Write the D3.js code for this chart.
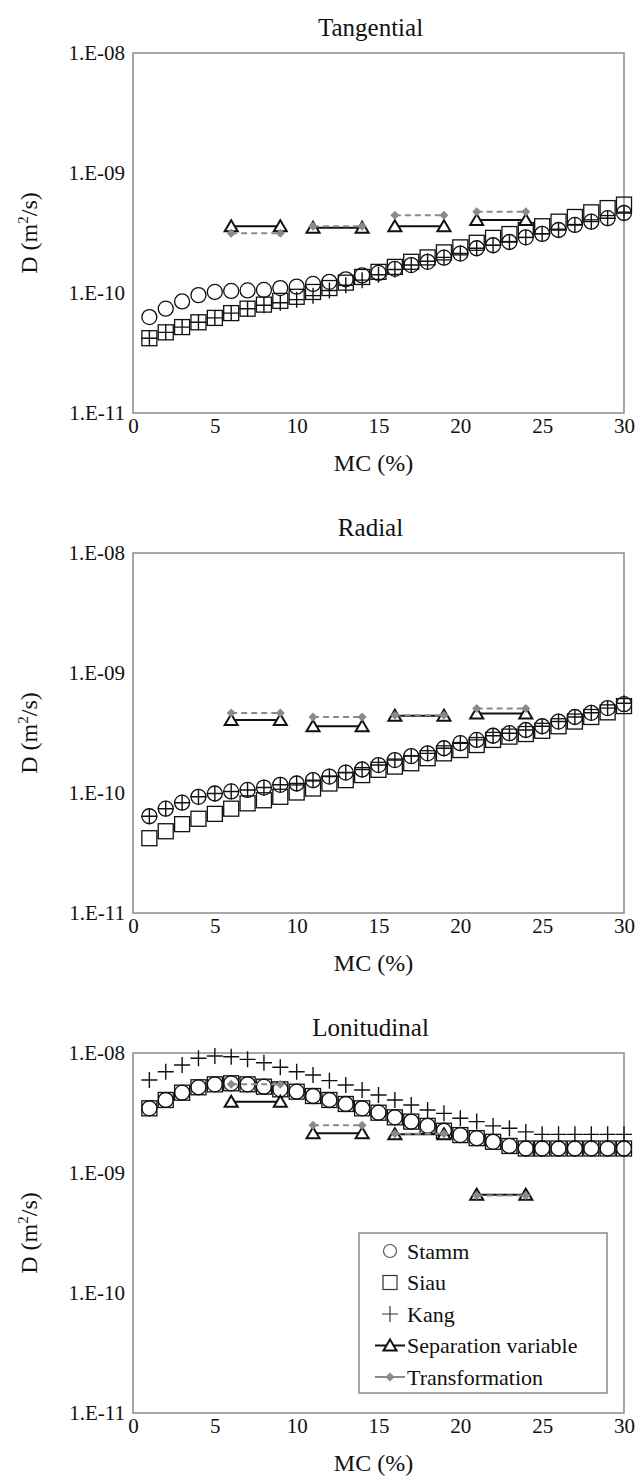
<!DOCTYPE html>
<html><head><meta charset="utf-8">
<script src="https://cdn.jsdelivr.net/npm/d3@7"></script>
<style>body{margin:0;background:#fff}svg{display:block}svg text,svg tspan{font-family:'Liberation Serif' !important}</style>
</head><body style="margin:0"><svg id="c" width="644" height="1484" font-family="Liberation Serif"></svg>
<script>
const mc = [1,2,3,4,5,6,7,8,9,10,11,12,13,14,15,16,17,18,19,20,21,22,23,24,25,26,27,28,29,30];
const xTicks = [0,5,10,15,20,25,30];
const yTicks = [1e-11,1e-10,1e-9,1e-8];
const yTickLabels = ["1.E-11","1.E-10","1.E-09","1.E-08"];
const panelTitles = ["Tangential","Radial","Lonitudinal"];
const segX = [6,9,11,14,16,19,21,24];

// Tangential
const tangStamm = [6.3e-11,7.4e-11,8.5e-11,9.6e-11,1.02e-10,1.04e-10,1.05e-10,1.06e-10,1.10e-10,1.13e-10,1.19e-10,1.24e-10,1.30e-10,1.40e-10,1.47e-10,1.59e-10,1.71e-10,1.82e-10,1.97e-10,2.13e-10,2.36e-10,2.50e-10,2.66e-10,2.91e-10,3.11e-10,3.35e-10,3.69e-10,3.93e-10,4.2e-10,4.64e-10];
const tangSiau = [4.2e-11,4.7e-11,5.2e-11,5.7e-11,6.2e-11,6.8e-11,7.4e-11,8.0e-11,8.6e-11,9.3e-11,1.02e-10,1.10e-10,1.22e-10,1.36e-10,1.50e-10,1.65e-10,1.82e-10,1.98e-10,2.18e-10,2.40e-10,2.62e-10,2.88e-10,3.1e-10,3.35e-10,3.6e-10,3.93e-10,4.3e-10,4.7e-10,5.1e-10,5.45e-10];
const tangKang = [4.2e-11,4.7e-11,5.2e-11,5.7e-11,6.2e-11,6.8e-11,7.4e-11,7.9e-11,8.3e-11,8.8e-11,9.5e-11,1.05e-10,1.16e-10,1.28e-10,1.42e-10,1.57e-10,1.71e-10,1.84e-10,1.98e-10,2.14e-10,2.36e-10,2.50e-10,2.66e-10,2.91e-10,3.11e-10,3.35e-10,3.69e-10,3.93e-10,4.2e-10,4.64e-10];
const tangSep = [3.6e-10,3.6e-10,3.5e-10,3.5e-10,3.6e-10,3.6e-10,4.05e-10,4.05e-10];
const tangTrans = [3.15e-10,3.15e-10,3.6e-10,3.6e-10,4.45e-10,4.45e-10,4.75e-10,4.75e-10];

// Radial
const radStamm = [6.4e-11,7.4e-11,8.3e-11,9.3e-11,9.9e-11,1.03e-10,1.06e-10,1.11e-10,1.17e-10,1.20e-10,1.28e-10,1.37e-10,1.48e-10,1.57e-10,1.71e-10,1.88e-10,2.03e-10,2.14e-10,2.36e-10,2.6e-10,2.77e-10,3.0e-10,3.15e-10,3.35e-10,3.6e-10,3.94e-10,4.3e-10,4.66e-10,5.1e-10,5.5e-10];
const radSiau = [4.2e-11,4.8e-11,5.5e-11,6.1e-11,6.7e-11,7.4e-11,8.2e-11,8.7e-11,9.3e-11,1.01e-10,1.09e-10,1.20e-10,1.28e-10,1.41e-10,1.56e-10,1.66e-10,1.77e-10,1.95e-10,2.14e-10,2.28e-10,2.51e-10,2.77e-10,2.95e-10,3.1e-10,3.3e-10,3.6e-10,3.94e-10,4.3e-10,4.7e-10,5.3e-10];
const radKang = [6.4e-11,7.4e-11,8.3e-11,9.3e-11,9.9e-11,1.03e-10,1.06e-10,1.11e-10,1.17e-10,1.20e-10,1.28e-10,1.37e-10,1.48e-10,1.57e-10,1.71e-10,1.88e-10,2.03e-10,2.14e-10,2.36e-10,2.6e-10,2.77e-10,3.0e-10,3.15e-10,3.35e-10,3.6e-10,3.94e-10,4.3e-10,4.66e-10,5.1e-10,5.6e-10];
const radSep = [4.05e-10,4.05e-10,3.6e-10,3.6e-10,4.4e-10,4.4e-10,4.6e-10,4.6e-10];
const radTrans = [4.65e-10,4.65e-10,4.3e-10,4.3e-10,4.45e-10,4.45e-10,5.05e-10,5.05e-10];

// Longitudinal
const lonStamm = [3.46e-9,4.06e-9,4.67e-9,5.18e-9,5.48e-9,5.59e-9,5.48e-9,5.24e-9,4.98e-9,4.76e-9,4.38e-9,4.06e-9,3.76e-9,3.46e-9,3.18e-9,2.91e-9,2.68e-9,2.47e-9,2.25e-9,2.07e-9,1.95e-9,1.82e-9,1.68e-9,1.6e-9,1.6e-9,1.6e-9,1.6e-9,1.6e-9,1.6e-9,1.6e-9];
const lonSiau = [3.46e-9,4.06e-9,4.67e-9,5.18e-9,5.48e-9,5.59e-9,5.48e-9,5.24e-9,4.98e-9,4.76e-9,4.38e-9,4.06e-9,3.76e-9,3.46e-9,3.18e-9,2.91e-9,2.68e-9,2.47e-9,2.25e-9,2.07e-9,1.95e-9,1.82e-9,1.68e-9,1.6e-9,1.6e-9,1.6e-9,1.6e-9,1.6e-9,1.6e-9,1.6e-9];
const lonKang = [5.96e-9,6.98e-9,7.94e-9,9.03e-9,9.44e-9,9.31e-9,8.85e-9,8.3e-9,7.6e-9,6.98e-9,6.56e-9,5.88e-9,5.41e-9,4.92e-9,4.47e-9,4.06e-9,3.69e-9,3.35e-9,3.14e-9,2.86e-9,2.68e-9,2.47e-9,2.36e-9,2.2e-9,2.1e-9,2.1e-9,2.1e-9,2.1e-9,2.1e-9,2.1e-9];
const lonSep = [3.93e-9,3.93e-9,2.14e-9,2.14e-9,2.1e-9,2.1e-9,6.6e-10,6.6e-10];
const lonTrans = [5.48e-9,5.48e-9,2.5e-9,2.5e-9,2.12e-9,2.12e-9,6.5e-10,6.5e-10];

const legendLabels = ["Stamm","Siau","Kang","Separation variable","Transformation"];

const panels = [
  {title: panelTitles[0], stamm: tangStamm, siau: tangSiau, kang: tangKang, sep: tangSep, trans: tangTrans},
  {title: panelTitles[1], stamm: radStamm, siau: radSiau, kang: radKang, sep: radSep, trans: radTrans},
  {title: panelTitles[2], stamm: lonStamm, siau: lonSiau, kang: lonKang, sep: lonSep, trans: lonTrans, legend: true}
];

const svg = d3.select("#c");
const L = 133, R = 624, H = 360;
const tops = [53, 553, 1053];
const GRAY = "#8a8a8a";
const INK = "#111";

const triPath = "M0,-6 L6.5,5 L-6.5,5 Z";
const diaPath = "M0,-4.5 L4.5,0 L0,4.5 L-4.5,0 Z";
const plusPath = "M-8,0 H8 M0,-8 V8";

function txt(sel, size) {
  return sel.attr("font-family", "Liberation Serif").style("font-family", (d) => "'Liberation Serif'")
    .style("font-size", size + "px").attr("fill", INK);
}

panels.forEach((p, i) => {
  const top = tops[i];
  const x = d3.scaleLinear().domain([0,30]).range([L,R]);
  const y = d3.scaleLog().domain([1e-11,1e-8]).range([top+H, top]);
  const g = svg.append("g").attr("font-family", "Liberation Serif");

  txt(g.append("text").attr("x", (L+R)/2 - 8).attr("y", top - 17).attr("text-anchor","middle"), 25).text(p.title);

  const ya = g.append("g").attr("transform",`translate(${L},0)`)
    .call(d3.axisLeft(y).tickValues(yTicks).tickSize(0).tickPadding(8)
      .tickFormat((d) => yTickLabels[yTicks.indexOf(d)]));
  ya.attr("font-family", "Liberation Serif");
  ya.select(".domain").remove();
  txt(ya.selectAll("text"), 21);
  const xa = g.append("g").attr("transform",`translate(0,${top+H})`)
    .call(d3.axisBottom(x).tickValues(xTicks).tickSize(0).tickPadding(5).tickFormat(d3.format("d")));
  xa.attr("font-family", "Liberation Serif");
  xa.select(".domain").remove();
  txt(xa.selectAll("text"), 21);

  g.append("rect").attr("x",L).attr("y",top).attr("width",R-L).attr("height",H)
    .attr("fill","none").attr("stroke",GRAY).attr("stroke-width",1.5);

  txt(g.append("text").attr("x",(L+R)/2 - 5).attr("y", top+H+58).attr("text-anchor","middle"), 24).text("MC (%)");
  const yl = txt(g.append("text").attr("transform",`translate(37,${top+H/2}) rotate(-90)`)
    .attr("text-anchor","middle"), 24);
  yl.append("tspan").text("D (m");
  yl.append("tspan").attr("dy",-9).style("font-size","15px").text("2");
  yl.append("tspan").attr("dy",9).text("/s)");

  g.append("g").selectAll("circle").data(mc).join("circle")
    .attr("cx", (d) => x(d)).attr("cy", (d,j) => y(p.stamm[j])).attr("r",7.5)
    .attr("fill","none").attr("stroke",INK).attr("stroke-width",1.3);
  g.append("g").selectAll("rect").data(mc).join("rect")
    .attr("x", (d) => x(d)-7.5).attr("y", (d,j) => y(p.siau[j])-7.5).attr("width",15).attr("height",15)
    .attr("fill","none").attr("stroke",INK).attr("stroke-width",1.3);
  g.append("g").selectAll("path").data(mc).join("path")
    .attr("transform", (d,j) => `translate(${x(d)},${y(p.kang[j])})`).attr("d",plusPath)
    .attr("stroke",INK).attr("stroke-width",1.4).attr("fill","none");

  const segs = [0,2,4,6];
  const lineFor = (vals) => segs.map((k) => [[x(segX[k]), y(vals[k])],[x(segX[k+1]), y(vals[k+1])]]);
  g.append("g").selectAll("path").data(lineFor(p.sep)).join("path")
    .attr("d", (d) => d3.line()(d)).attr("stroke",INK).attr("stroke-width",2).attr("fill","none");
  g.append("g").selectAll("path").data(segX).join("path")
    .attr("transform", (d,j) => `translate(${x(d)},${y(p.sep[j])})`).attr("d",triPath)
    .attr("fill","#fff").attr("stroke",INK).attr("stroke-width",2);
  g.append("g").selectAll("path").data(lineFor(p.trans)).join("path")
    .attr("d", (d) => d3.line()(d)).attr("stroke",GRAY).attr("stroke-width",2).attr("stroke-dasharray","6,4").attr("fill","none");
  g.append("g").selectAll("path").data(segX).join("path")
    .attr("transform", (d,j) => `translate(${x(d)},${y(p.trans[j])})`).attr("d",diaPath)
    .attr("fill",GRAY).attr("stroke","none");

  if (p.legend) {
    const lx = 359, ly = 1233, lw = 248, lh = 160;
    const lg = g.append("g");
    lg.append("rect").attr("x",lx).attr("y",ly).attr("width",lw).attr("height",lh)
      .attr("fill","#fff").attr("stroke",GRAY).attr("stroke-width",1.5);
    const rowY = (k) => ly + 18 + k*31.5;
    const sx = lx + 31;
    legendLabels.forEach((lab,k) => {
      txt(lg.append("text").attr("x", lx + 48).attr("y", rowY(k)).attr("dy","0.35em"), 22).text(lab);
    });
    lg.append("circle").attr("cx",sx).attr("cy",rowY(0)).attr("r",6.5).attr("fill","none").attr("stroke","#555").attr("stroke-width",1.2);
    lg.append("rect").attr("x",sx-7).attr("y",rowY(1)-7).attr("width",14).attr("height",14).attr("fill","none").attr("stroke","#333").attr("stroke-width",1.2);
    lg.append("path").attr("transform",`translate(${sx},${rowY(2)})`).attr("d",plusPath).attr("stroke","#333").attr("stroke-width",1.2);
    lg.append("path").attr("d",`M${sx-15},${rowY(3)} H${sx+15}`).attr("stroke",INK).attr("stroke-width",2);
    lg.append("path").attr("transform",`translate(${sx},${rowY(3)})`).attr("d",triPath).attr("fill","#fff").attr("stroke",INK).attr("stroke-width",2);
    lg.append("path").attr("d",`M${sx-15},${rowY(4)} H${sx+15}`).attr("stroke",GRAY).attr("stroke-width",2);
    lg.append("path").attr("transform",`translate(${sx},${rowY(4)})`).attr("d",diaPath).attr("fill",GRAY);
  }
});
</script></body></html>
